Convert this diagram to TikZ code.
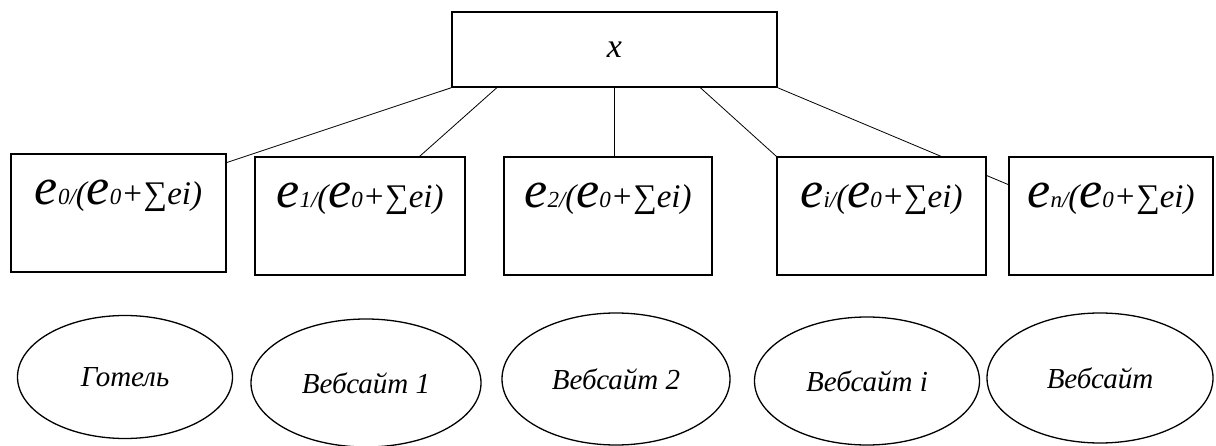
\documentclass[tikz,border=0pt]{standalone}
\usepackage{fontspec}
\setmainfont{Liberation Serif}
\newfontfamily\tnr{Liberation Serif}
\usetikzlibrary{shapes.geometric,backgrounds}

%% share of one source: e_k/(e_0+sum e_i), mixed sizes as in the sketch
\newcommand{\shareof}[1]{%
  {\fontsize{52}{52}\selectfont e}{\fontsize{23}{23}\selectfont #1/}%
  {\fontsize{33}{33}\selectfont (}{\fontsize{52}{52}\selectfont e}%
  {\fontsize{23}{23}\selectfont 0}{\fontsize{33}{33}\selectfont +∑ei)}}

\begin{document}
\begin{tikzpicture}[x=1pt, y=-1pt,
    fbox/.style={draw, fill=white, line width=1.5pt, minimum height=118,
      inner sep=0pt, text height=20pt, text depth=36pt, font=\tnr\itshape},
    topbox/.style={draw, fill=white, line width=1.5pt, minimum width=325,
      minimum height=75, inner sep=0pt,
      font=\tnr\itshape\fontsize{34}{34}\selectfont},
    site/.style={draw, ellipse, line width=1.3pt, inner sep=0pt,
      font=\tnr\itshape\fontsize{29}{29}\selectfont},
    link/.style={draw, line width=0.8pt}]
  \useasboundingbox (0,0) rectangle (1216,446);
  %% ── Top node ───────────────────────────────────────────────
  \node[topbox] (top) at (614.5,49.5) {x};
  %% ── Shares: name / x / y / width / index ───────────────────
  \foreach \n/\cx/\cy/\w/\k in {
    e0/118.5/213/215/0, e1/360/216/210/1, e2/608/216/208/2,
    ei/881.5/216/209/i, en/1111/216/204/n}{
    \node[fbox, minimum width=\w] (\n) at (\cx,\cy) {\shareof{\k}};
  }
  %% ── Sources: name / x / y / width / height / label ─────────
  \foreach \n/\cx/\cy/\w/\h/\t in {
    hotel/125/377/215/123/{Готель},
    site1/366/383/230/128/{Вебсайт 1},
    site2/616/379/228/132/{Вебсайт 2},
    sitei/867/381/225/128/{Вебсайт i},
    siten/1100/378/226/130/{Вебсайт}}{
    \node[site, minimum width=\w, minimum height=\h] (\n) at (\cx,\cy) {\t};
  }
  %% ── Links from x to the shares ─────────────────────────────
  \begin{scope}[on background layer]
    \draw[link] (top.south west) -- (e0.25);
    \draw[link] (top.198.6) -- (e1.45.5);
    \draw[link] (top.south) -- (top.south |- e2.north);
    \draw[link] (top.336.8) -- (ei.north west);
    \draw[link] (top.south east) -- (en.163);
  \end{scope}
\end{tikzpicture}
\end{document}
